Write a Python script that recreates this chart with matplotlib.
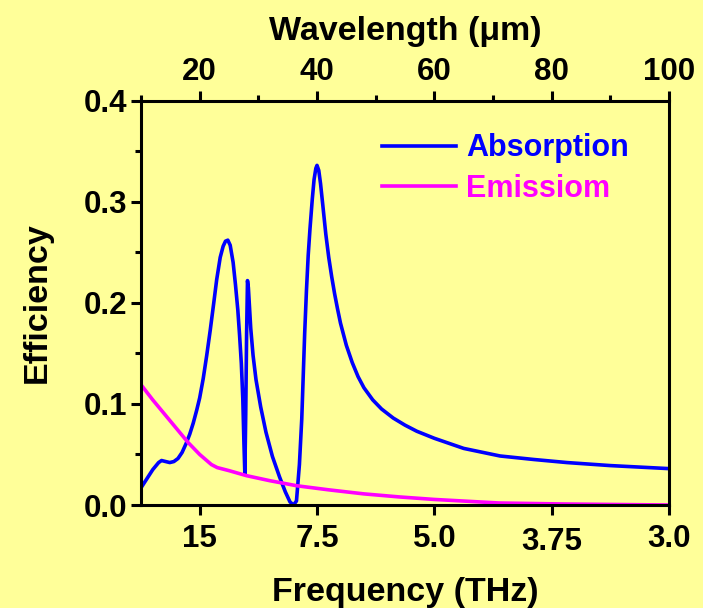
import matplotlib
matplotlib.use('Agg')
import matplotlib.pyplot as plt
from matplotlib.ticker import MultipleLocator, FormatStrFormatter

plt.rcParams['font.family'] = ['Liberation Sans', 'DejaVu Sans']
plt.rcParams['font.weight'] = 'bold'

# absorption curve (wavelength in um)
abs_wl = [10.0, 11.0, 12.0, 13.0, 13.5, 14.2, 14.9, 15.6, 16.3, 17.0, 17.7, 18.3, 18.9,
          19.5, 20.0, 20.6, 21.2, 21.8, 22.4, 22.9, 23.5, 24.0, 24.4, 24.8, 25.2, 25.7,
          26.1, 26.5, 26.8, 27.1, 27.35, 27.55, 27.7, 27.85, 28.0, 28.15, 28.3, 28.7,
          29.1, 29.6, 30.4, 31.3, 32.4, 33.6, 34.6, 35.4, 36.0, 36.5, 37.0, 37.4, 37.9,
          38.2, 38.5, 38.8, 39.2, 39.5, 39.8, 40.0, 40.3, 40.6, 41.0, 41.5, 42.0, 42.5,
          43.0, 43.5, 44.0, 45.0, 46.0, 47.0, 48.0, 49.5, 51.0, 53.0, 55.0, 57.0, 60.0,
          65.0, 71.2, 77.0, 82.6, 90.0, 100.0]
abs_val = [0.017, 0.026, 0.035, 0.042, 0.044, 0.043, 0.042, 0.043, 0.046, 0.052, 0.061,
           0.070, 0.081, 0.094, 0.106, 0.125, 0.148, 0.173, 0.200, 0.223, 0.245, 0.256,
           0.261, 0.262, 0.257, 0.240, 0.218, 0.193, 0.168, 0.140, 0.105, 0.060, 0.031,
           0.090, 0.170, 0.222, 0.215, 0.175, 0.148, 0.124, 0.097, 0.072, 0.048, 0.028,
           0.013, 0.003, 0.000, 0.004, 0.040, 0.085, 0.170, 0.212, 0.247, 0.273, 0.303,
           0.322, 0.333, 0.336, 0.331, 0.318, 0.296, 0.268, 0.245, 0.226, 0.209, 0.194,
           0.180, 0.158, 0.141, 0.127, 0.116, 0.104, 0.095, 0.086, 0.079, 0.073, 0.066,
           0.056, 0.0485, 0.045, 0.042, 0.039, 0.036]

# emission curve
emi_wl = [10.0, 12.0, 14.0, 16.0, 18.0, 20.0, 21.0, 22.0, 23.0, 25.0, 28.0, 32.0, 36.6,
          42.0, 48.0, 54.0, 60.0, 71.0, 82.0, 100.0]
emi_val = [0.119, 0.104, 0.090, 0.076, 0.062, 0.050, 0.045, 0.040, 0.037, 0.034, 0.029,
           0.024, 0.019, 0.015, 0.011, 0.008, 0.0055, 0.002, 0.001, 0.000]

top_ticks = [20, 40, 60, 80, 100]
freq_labels = ['15', '7.5', '5.0', '3.75', '3.0']

bg = '#FFFF99'
fig = plt.figure(figsize=(7.03, 6.08), dpi=100, facecolor=bg)
ax = fig.add_axes([0.2006, 0.1694, 0.7510, 0.6650], facecolor=bg)

ax.plot(abs_wl, abs_val, color='#0000FF', lw=2.6, label='Absorption')
ax.plot(emi_wl, emi_val, color='#FF00FF', lw=2.6, label='Emissiom')

ax.set_xlim(10, 100)
ax.set_ylim(0, 0.4)

# bottom axis: frequency labels at wavelength positions
ax.set_xticks(top_ticks)
ax.set_xticklabels(freq_labels)
ax.yaxis.set_major_locator(MultipleLocator(0.1))
ax.yaxis.set_minor_locator(MultipleLocator(0.05))
ax.yaxis.set_major_formatter(FormatStrFormatter('%.1f'))

for s in ax.spines.values():
    s.set_linewidth(2.2)

ax.tick_params(axis='both', which='major', direction='out', length=7, width=2.2,
               labelsize=22.5, pad=3)
ax.tick_params(axis='x', which='major', pad=7)
ax.tick_params(axis='y', which='minor', direction='out', length=4, width=2.2)
ax.tick_params(axis='x', which='minor', bottom=False)

# the 3.75 label sits a few pixels lower in the original
ax.get_xticklabels()[3].set_y(-0.007)

ax.set_xlabel('Frequency (THz)', fontsize=24.5, fontweight='bold', labelpad=14)
ax.set_ylabel('Efficiency', fontsize=24.5, fontweight='bold', labelpad=22)

# top axis: wavelength
top = ax.secondary_xaxis('top')
top.set_xticks(top_ticks)
top.xaxis.set_minor_locator(MultipleLocator(10))
top.tick_params(which='major', direction='out', length=7, width=2.2, labelsize=22.5, pad=3)
top.tick_params(which='minor', direction='out', length=4, width=2.2)
top.set_xlabel('Wavelength (\u03bcm)', fontsize=24.5, fontweight='bold', labelpad=12)

leg = ax.legend(loc='upper left', bbox_to_anchor=(0.405, 0.987), frameon=False,
                handlelength=2.42, handletextpad=0.33, labelspacing=0.35,
                labelcolor='linecolor', prop={'weight': 'bold', 'size': 22})

fig.savefig('out.png', dpi=100, facecolor=bg)
